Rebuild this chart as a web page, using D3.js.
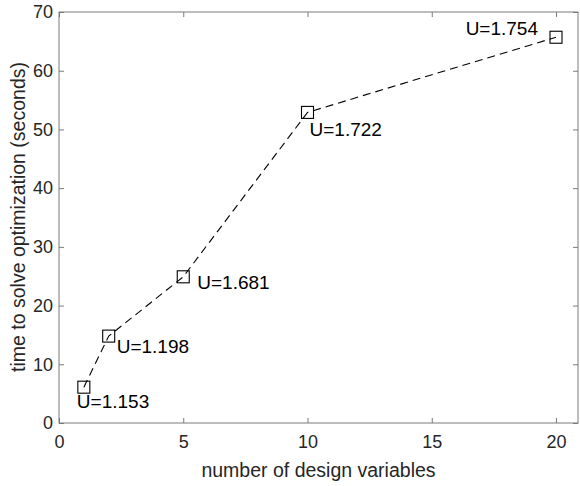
<!DOCTYPE html>
<html>
<head>
<meta charset="utf-8">
<script src="https://cdn.jsdelivr.net/npm/d3@7"></script>
<style>
  body { margin: 0; background: #fff; }
  text { font-family: "Liberation Sans", Arial, Helvetica, sans-serif; }
</style>
</head>
<body>
<div id="chart"></div>
<script>
// data
var designVars = [1, 2, 5, 10, 20],
    solveTime  = [6.1, 14.8, 24.9, 52.9, 65.7],
    uLabels    = ['U=1.153', 'U=1.198', 'U=1.681', 'U=1.722', 'U=1.754'],
    xTicks     = [0, 5, 10, 15, 20],
    yTicks     = [0, 10, 20, 30, 40, 50, 60, 70];

var width = 580, height = 486,
    mLeft = 59, mRight = 578, mTop = 12, mBottom = 423,
    axisColor = '#7a7a7a';

var svg = d3.select('#chart').append('svg')
    .attr('width', width)
    .attr('height', height);

var x = d3.scaleLinear().domain([0, 20]).range([mLeft, 556]);
var y = d3.scaleLinear().domain([0, 70]).range([mBottom, mTop]);

// box
svg.append('rect')
    .attr('x', mLeft).attr('y', mTop)
    .attr('width', mRight - mLeft).attr('height', mBottom - mTop)
    .attr('fill', 'none')
    .attr('stroke', axisColor)
    .attr('stroke-width', 1);

// axes (ticks inward)
var xAxis = svg.append('g')
    .attr('transform', 'translate(0,' + mBottom + ')')
    .call(d3.axisBottom(x).tickValues(xTicks).tickSize(-5).tickPadding(12));
var xTop = svg.append('g')
    .attr('transform', 'translate(0,' + mTop + ')')
    .call(d3.axisTop(x).tickValues(xTicks).tickSize(-5).tickFormat(''));
var yAxis = svg.append('g')
    .attr('transform', 'translate(' + mLeft + ',0)')
    .call(d3.axisLeft(y).tickValues(yTicks).tickSize(-5).tickPadding(6));
var yRight = svg.append('g')
    .attr('transform', 'translate(' + mRight + ',0)')
    .call(d3.axisRight(y).tickValues(yTicks).tickSize(-5).tickFormat(''));

[xAxis, xTop, yAxis, yRight].forEach(function(g) {
  g.select('.domain').remove();
  g.selectAll('line').attr('stroke', axisColor);
  g.selectAll('text')
      .attr('fill', '#262626')
      .style('font-size', '18px');
});

// axis labels
svg.append('text')
    .attr('x', (mLeft + mRight) / 2)
    .attr('y', 477)
    .attr('text-anchor', 'middle')
    .attr('fill', '#262626')
    .style('font-size', '19.5px')
    .text('number of design variables');

svg.append('text')
    .attr('transform', 'translate(25,' + 217 + ') rotate(-90)')
    .attr('text-anchor', 'middle')
    .attr('fill', '#262626')
    .style('font-size', '19.5px')
    .text('time to solve optimization (seconds)');

// line
var pts = designVars.map(function(d, i) { return { x: d, y: solveTime[i], label: uLabels[i] }; });

svg.append('path')
    .datum(pts)
    .attr('fill', 'none')
    .attr('stroke', '#000')
    .attr('stroke-width', 1.1)
    .attr('stroke-dasharray', '8,5')
    .attr('d', d3.line().x(function(d){ return x(d.x); }).y(function(d){ return y(d.y); }));

// markers
var ms = 12;
svg.selectAll('rect.mark')
    .data(pts)
  .enter().append('rect')
    .attr('class', 'mark')
    .attr('x', function(d){ return x(d.x) - ms / 2; })
    .attr('y', function(d){ return y(d.y) - ms / 2; })
    .attr('width', ms).attr('height', ms)
    .attr('fill', 'none')
    .attr('stroke', '#000')
    .attr('stroke-width', 1.1);

// point labels, offsets per point
var offs = [[-7, 21, 'start'], [8, 17, 'start'], [14, 12, 'start'], [2, 24, 'start'], [-18, -2, 'end']];
svg.selectAll('text.ulab')
    .data(pts)
  .enter().append('text')
    .attr('class', 'ulab')
    .attr('x', function(d, i){ return x(d.x) + offs[i][0]; })
    .attr('y', function(d, i){ return y(d.y) + offs[i][1]; })
    .attr('text-anchor', function(d, i){ return offs[i][2]; })
    .attr('fill', '#000')
    .style('font-size', '19px')
    .text(function(d){ return d.label; });
</script>
</body>
</html>
